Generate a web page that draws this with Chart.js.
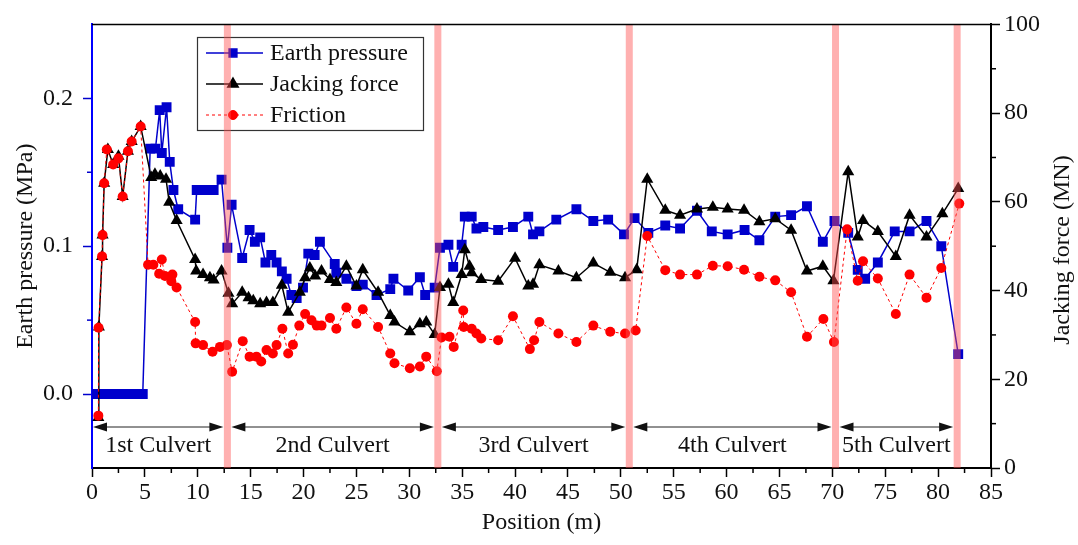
<!DOCTYPE html>
<html>
<head>
<meta charset="utf-8">
<script src="https://cdn.jsdelivr.net/npm/chart.js@4.4.0/dist/chart.umd.min.js"></script>
<style>
  html, body { margin: 0; padding: 0; background: #fff; }
</style>
</head>
<body>
<canvas id="myChart" width="1078" height="545"></canvas>
<script>
// earth pressure (MPa)
var pressurePos = [0, 0.5, 1, 1.5, 2, 2.5, 3, 3.5, 4, 4.8, 5.5, 6, 6.4, 6.6, 7.05, 7.35, 7.7, 8.15, 9.75, 9.9,
  10.7, 11.5, 12.25, 12.8, 13.2, 14.2, 14.9, 15.4, 15.9, 16.4, 16.95, 17.45, 17.95, 18.4, 18.85, 19.35, 19.95, 20.45, 21.05, 21.55,
  22.95, 23.1, 24.05, 25, 25.6, 26.9, 28.2, 28.5, 29.9, 31, 31.5, 32.4, 32.9, 33.7, 34.15, 34.95, 35.25, 35.9, 36.35, 37,
  38.4, 39.8, 41.25, 41.7, 42.3, 43.9, 45.8, 47.4, 48.8, 50.3, 51.3, 52.6, 54.2, 55.6, 57.2, 58.6, 60.1, 61.7, 63.1, 64.6,
  66.1, 67.6, 69.1, 70.2, 71.5, 72.4, 73.1, 74.3, 75.9, 77.3, 78.9, 80.3, 81.9];
var pressureVal = [0, 0, 0, 0, 0, 0, 0, 0, 0, 0, 0.166, 0.166, 0.192, 0.163, 0.194, 0.157, 0.138, 0.125, 0.118, 0.138,
  0.138, 0.138, 0.145, 0.099, 0.128, 0.092, 0.111, 0.103, 0.106, 0.089, 0.094, 0.089, 0.083, 0.078, 0.067, 0.065, 0.072, 0.095, 0.094, 0.103,
  0.088, 0.082, 0.078, 0.073, 0.074, 0.067, 0.071, 0.078, 0.070, 0.079, 0.067, 0.072, 0.099, 0.101, 0.086, 0.101, 0.120, 0.120, 0.112, 0.113,
  0.111, 0.113, 0.120, 0.108, 0.110, 0.118, 0.125, 0.117, 0.118, 0.108, 0.119, 0.109, 0.114, 0.112, 0.124, 0.110, 0.108, 0.111, 0.104, 0.120,
  0.121, 0.127, 0.103, 0.117, 0.109, 0.084, 0.078, 0.089, 0.110, 0.110, 0.117, 0.100, 0.027];

// jacking force (MN), right axis
var jackingPos = [0.6, 0.65, 0.95, 1, 1.15, 1.5, 2, 2.5, 2.9, 3.4, 3.75, 4.6, 5.6, 5.95, 6.45, 7, 7.3, 8, 9.75, 9.85,
  10.5, 11.15, 11.5, 12.25, 12.9, 13.25, 14.2, 14.8, 15.25, 15.9, 16.5, 17.1, 17.95, 18.55, 19.65, 20.15, 20.6, 21.1, 21.7, 22.5,
  23.1, 24.05, 25, 25.6, 27.05, 28.2, 28.6, 30.05, 31, 31.6, 32.4, 32.9, 33.7, 34.15, 34.95, 35.25, 35.7, 35.9, 36.8, 38.4,
  40, 41.25, 41.7, 42.3, 44.1, 45.8, 47.4, 49, 50.4, 51.5, 52.5, 54.2, 55.6, 57.2, 58.7, 60.1, 61.65, 63.1, 64.6, 66.1,
  67.6, 69.1, 70.1, 71.5, 72.4, 72.9, 74.3, 76, 77.3, 78.9, 80.4, 81.9];
var jackingVal = [11.4, 31.8, 47.7, 52.5, 64.2, 71.8, 68.4, 70.3, 61.2, 71.4, 73.6, 77.0, 65.5, 66.2, 65.8, 65.1, 59.9, 55.8, 47.0, 44.4,
  43.6, 42.9, 42.4, 44.4, 39.4, 37.0, 39.6, 38.4, 37.7, 37.0, 37.3, 37.3, 41.2, 35.1, 39.6, 42.9, 45.1, 43.3, 44.4, 42.5,
  41.8, 45.5, 41.0, 44.7, 39.6, 34.4, 32.9, 30.7, 32.5, 32.9, 30.1, 40.7, 41.4, 37.3, 43.6, 49.2, 45.5, 44.0, 42.5, 42.1,
  47.3, 41.0, 41.4, 45.8, 44.4, 42.9, 46.2, 44.1, 42.9, 44.7, 65.1, 58.1, 57.0, 58.4, 58.8, 58.4, 58.1, 55.5, 56.2, 53.6,
  44.4, 45.5, 42.2, 66.8, 52.1, 55.8, 53.3, 47.7, 57.0, 52.1, 57.3, 63.0];

// friction (MN), right axis
var frictionPos = [0.6, 0.62, 0.95, 1, 1.15, 1.4, 2, 2.5, 2.9, 3.4, 3.75, 4.6, 5.3, 5.8, 6.35, 6.6, 6.9, 7.5, 7.6, 8,
  9.75, 9.8, 10.5, 11.4, 12.1, 12.75, 13.25, 14.25, 14.9, 15.55, 16, 16.5, 17.1, 17.45, 18, 18.55, 19, 19.6, 20.15, 20.75,
  21.25, 21.7, 22.5, 23.1, 24.05, 25, 25.6, 27.05, 28.2, 28.6, 30.05, 31, 31.6, 32.6, 33.05, 33.8, 34.2, 35.1, 35.15, 35.9,
  36.35, 36.8, 38.4, 39.8, 41.4, 41.8, 42.3, 44.1, 45.8, 47.4, 49, 50.4, 51.4, 52.5, 54.2, 55.6, 57.2, 58.7, 60.1, 61.65,
  63.1, 64.6, 66.1, 67.6, 69.15, 70.15, 71.4, 72.4, 72.9, 74.3, 76, 77.3, 78.9, 80.3, 82];
var frictionVal = [11.8, 31.6, 47.7, 52.5, 64.2, 71.8, 68.4, 69.8, 61.2, 71.4, 73.6, 77.0, 45.8, 45.8, 43.8, 47.0, 43.3, 42.1, 43.6, 40.7,
  32.9, 28.1, 27.7, 26.2, 27.3, 27.7, 21.7, 28.6, 25.1, 25.1, 24.0, 26.6, 25.8, 27.7, 31.4, 25.8, 27.8, 32.1, 34.7, 33.3,
  32.1, 32.1, 33.8, 31.4, 36.2, 32.5, 35.8, 31.8, 25.8, 23.6, 22.5, 22.9, 25.1, 21.8, 29.4, 29.6, 27.3, 35.5, 31.8, 31.4,
  30.3, 29.2, 28.8, 34.2, 26.8, 28.8, 32.9, 30.3, 28.4, 32.1, 30.7, 30.3, 31.0, 52.3, 44.6, 43.6, 43.6, 45.6, 45.5, 44.7,
  43.1, 42.3, 39.6, 29.6, 33.6, 28.4, 53.8, 42.2, 46.6, 42.7, 34.7, 43.6, 38.4, 45.1, 59.6];

var culvertNames = ['1st Culvert', '2nd Culvert', '3rd Culvert', '4th Culvert', '5th Culvert'];
var culvertJoints = [0, 12.8, 32.7, 50.8, 70.3, 81.8];

var serif = "'Liberation Serif', 'Times New Roman', serif";

function pairs(xs, ys) {
  return xs.map(function (x, i) { return { x: x, y: ys[i] }; });
}

function isStep(v, step) {
  var k = v / step;
  return Math.abs(k - Math.round(k)) < 1e-6;
}

// joints, culvert arrows, legend box, minor ticks, top frame
var overlay = {
  id: 'overlay',
  afterDatasetsDraw: function (chart) {
    var c = chart.ctx, a = chart.chartArea, xs = chart.scales.x;
    c.save();

    // culvert arrows and names
    c.strokeStyle = '#222';
    c.fillStyle = '#111';
    c.lineWidth = 1;
    for (var i = 0; i < culvertNames.length; i++) {
      var x1 = xs.getPixelForValue(culvertJoints[i]) + (i === 0 ? 1 : 4);
      var x2 = xs.getPixelForValue(culvertJoints[i + 1]) - 4;
      var y = 427;
      c.beginPath(); c.moveTo(x1 + 10, y); c.lineTo(x2 - 10, y); c.stroke();
      c.beginPath(); c.moveTo(x1, y); c.lineTo(x1 + 14, y - 4.5); c.lineTo(x1 + 14, y + 4.5); c.closePath(); c.fill();
      c.beginPath(); c.moveTo(x2, y); c.lineTo(x2 - 14, y - 4.5); c.lineTo(x2 - 14, y + 4.5); c.closePath(); c.fill();
      c.font = '24px ' + serif;
      c.textAlign = 'center';
      c.textBaseline = 'middle';
      c.fillText(culvertNames[i], (x1 + x2) / 2, 446);
    }

    // legend
    c.fillStyle = '#fff';
    c.fillRect(197, 37, 226, 93);
    c.strokeStyle = '#333';
    c.lineWidth = 1.2;
    c.strokeRect(197.5, 37.5, 226, 93);
    var rows = [53, 84, 115];
    var sizes = [5.5, 6, 4.5];
    chart.data.datasets.forEach(function (ds, k) {
      var ly = rows[k];
      c.strokeStyle = ds.borderColor;
      c.lineWidth = ds.borderWidth;
      c.setLineDash(ds.borderDash || []);
      c.beginPath(); c.moveTo(206, ly); c.lineTo(263, ly); c.stroke();
      c.setLineDash([]);
      c.fillStyle = ds.backgroundColor;
      c.strokeStyle = ds.borderColor;
      Chart.helpers.drawPoint(c, { pointStyle: ds.pointStyle, radius: sizes[k], rotation: 0, borderWidth: 1 }, 233, ly);
      c.fillStyle = '#111';
      c.font = '24px ' + serif;
      c.textAlign = 'left';
      c.textBaseline = 'middle';
      c.fillText(ds.label, 270, ly + 1);
    });

    // joints between culverts
    c.fillStyle = 'rgba(255, 80, 80, 0.45)';
    for (var j = 1; j < culvertJoints.length; j++) {
      var px = xs.getPixelForValue(culvertJoints[j]);
      c.fillRect(px - 3.5, a.top, 7, a.bottom - a.top);
    }

    // top frame line
    c.strokeStyle = '#000';
    c.lineWidth = 1.5;
    c.beginPath(); c.moveTo(a.left, a.top); c.lineTo(a.right, a.top); c.stroke();
    c.restore();
  },
  afterDraw: function (chart) {
    var c = chart.ctx, a = chart.chartArea, s = chart.scales;
    c.save();
    c.lineWidth = 1.5;
    c.strokeStyle = '#0000cc';
    [0.05, 0.15].forEach(function (v) {
      var y = s.y.getPixelForValue(v);
      c.beginPath(); c.moveTo(a.left, y); c.lineTo(a.left - 5, y); c.stroke();
    });
    c.strokeStyle = '#000';
    [10, 30, 50, 70, 90].forEach(function (v) {
      var y = s.y1.getPixelForValue(v);
      c.beginPath(); c.moveTo(a.right, y); c.lineTo(a.right + 5, y); c.stroke();
    });
    for (var v = 2.5; v < 85; v += 5) {
      var x = s.x.getPixelForValue(v);
      c.beginPath(); c.moveTo(x, a.bottom); c.lineTo(x, a.bottom + 5); c.stroke();
    }

    // right axis title, reading bottom to top
    c.translate(1063, 250);
    c.rotate(-Math.PI / 2);
    c.fillStyle = '#111';
    c.font = '24px ' + serif;
    c.textAlign = 'center';
    c.textBaseline = 'middle';
    c.fillText('Jacking force (MN)', 0, 0);
    c.restore();
  }
};

var ctx = document.getElementById('myChart').getContext('2d');

var myChart = new Chart(ctx, {
  type: 'line',
  data: {
    datasets: [{
      label: 'Earth pressure',
      data: pairs(pressurePos, pressureVal),
      yAxisID: 'y',
      borderColor: '#0000cc',
      backgroundColor: '#0000cc',
      borderWidth: 1.5,
      pointStyle: 'rect',
      pointRadius: 7,
      pointBorderWidth: 0,
      order: 2
    }, {
      label: 'Jacking force',
      data: pairs(jackingPos, jackingVal),
      yAxisID: 'y1',
      borderColor: '#000000',
      backgroundColor: '#000000',
      borderWidth: 1.5,
      pointStyle: 'triangle',
      pointRadius: 7,
      pointBorderWidth: 0,
      order: 1
    }, {
      label: 'Friction',
      data: pairs(frictionPos, frictionVal),
      yAxisID: 'y1',
      borderColor: '#ff0000',
      backgroundColor: '#ff0000',
      borderWidth: 1,
      borderDash: [3, 3],
      pointStyle: 'circle',
      pointRadius: 5,
      pointBorderWidth: 0,
      order: 0
    }]
  },
  options: {
    responsive: false,
    animation: false,
    layout: { padding: { top: 18, left: 0, right: 0, bottom: 0 } },
    plugins: {
      legend: { display: false },
      tooltip: { enabled: false }
    },
    elements: { line: { tension: 0 } },
    scales: {
      x: {
        type: 'linear',
        min: 0,
        max: 85,
        afterFit: function (s) { s.height = 77; },
        border: { color: '#000', width: 2 },
        grid: {
          drawOnChartArea: false,
          tickLength: 9,
          tickWidth: 1.5,
          tickColor: function (c) { return isStep(c.tick.value, 5) ? '#000' : 'rgba(0,0,0,0)'; }
        },
        ticks: {
          stepSize: 2.5,
          autoSkip: false,
          maxRotation: 0,
          padding: 1,
          color: '#111',
          font: { family: serif, size: 24 },
          callback: function (v) { return isStep(v, 5) ? String(v) : ''; }
        },
        title: {
          display: true,
          text: 'Position (m)',
          color: '#111',
          font: { family: serif, size: 24 },
          padding: { top: 0, bottom: 8 }
        }
      },
      y: {
        position: 'left',
        min: -0.05,
        max: 0.25,
        afterFit: function (s) { s.width = 92; },
        border: { color: '#0000ff', width: 2 },
        grid: {
          drawOnChartArea: false,
          tickLength: 9,
          tickWidth: 1.5,
          tickColor: function (c) { return isStep(c.tick.value, 0.1) ? '#0000cc' : 'rgba(0,0,0,0)'; }
        },
        ticks: {
          stepSize: 0.05,
          padding: 10,
          color: '#111',
          font: { family: serif, size: 24 },
          callback: function (v) { return isStep(v, 0.1) ? (Math.round(v * 10) / 10 + 0).toFixed(1) : ''; }
        },
        title: {
          display: true,
          text: 'Earth pressure (MPa)',
          color: '#111',
          font: { family: serif, size: 24 },
          padding: { top: 11, bottom: 0 }
        }
      },
      y1: {
        position: 'right',
        min: 0,
        max: 100,
        afterFit: function (s) { s.width = 87; },
        border: { color: '#000', width: 2 },
        grid: {
          drawOnChartArea: false,
          tickLength: 9,
          tickWidth: 1.5,
          tickColor: function (c) { return isStep(c.tick.value, 20) ? '#000' : 'rgba(0,0,0,0)'; }
        },
        ticks: {
          stepSize: 10,
          padding: 4,
          color: '#111',
          font: { family: serif, size: 24 },
          callback: function (v) { return isStep(v, 20) ? String(v) : ''; }
        },
        title: { display: false }
      }
    }
  },
  plugins: [overlay]
});
</script>
</body>
</html>
